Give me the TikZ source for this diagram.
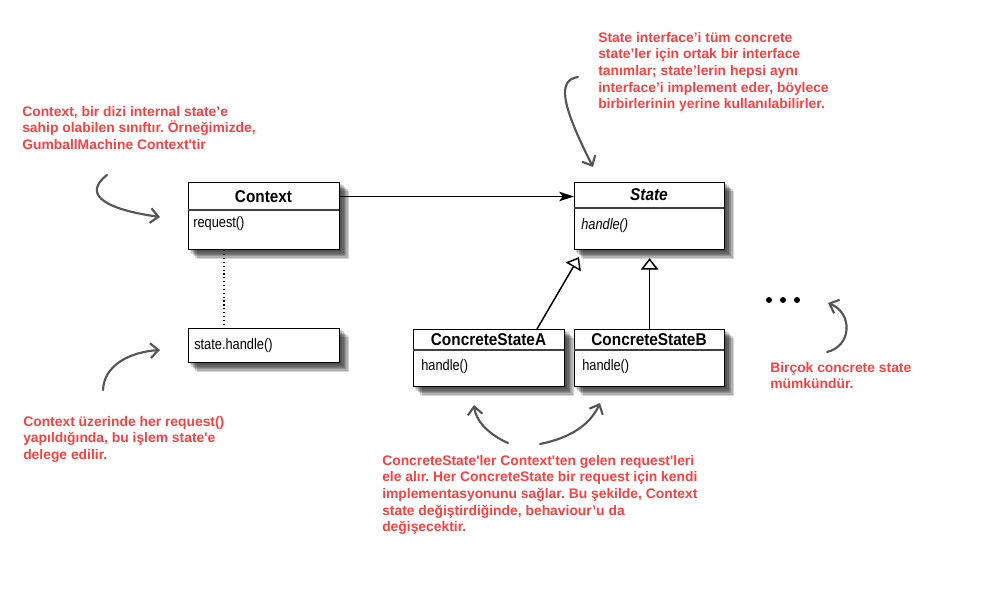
\documentclass[tikz,border=0pt]{standalone}
\usepackage{fontspec}
\setmainfont{Liberation Sans}
\newfontfamily\tfont[FakeStretch=0.9]{Liberation Sans}
\newfontfamily\bfont[FakeStretch=0.85]{Liberation Sans}
\usetikzlibrary{arrows.meta,backgrounds}
\definecolor{notered}{RGB}{252,64,64}
\definecolor{handgray}{RGB}{85,85,85}
\newcommand\sq{\textquotesingle}
\frenchspacing
\begin{document}
\begin{tikzpicture}[x=0.75pt,y=-0.75pt,
  umlbox/.style={draw=black, line width=0.9pt, fill=white, inner sep=0pt},
  shadowpart/.style={fill=black, opacity=0.17},
  sepline/.style={draw=black!75, line width=1.1pt},
  titletext/.style={font=\tfont\fontsize{12.8pt}{14pt}\selectfont\bfseries, inner sep=0pt},
  bodytext/.style={font=\bfont\fontsize{11.3pt}{13pt}\selectfont, inner sep=0pt, anchor=west},
  note/.style={font=\fontsize{10.4pt}{12.45pt}\selectfont\bfseries, text=notered, align=left, anchor=north west, inner sep=0pt},
  hand/.style={draw=handgray, line width=1.6pt, line cap=round, -{Straight Barb[length=6pt,width=11pt]}},
  assoc/.style={draw=black, line width=1.2pt, -{Stealth[length=11pt,width=7pt,inset=2.5pt]}},
  inherit/.style={draw=black, line width=1.1pt, shorten >=6pt, -{Triangle[open,length=8.5pt,width=13pt,fill=white]}},
  dot/.style={circle, fill=black, inner sep=0pt, minimum size=4.5pt}
]
\useasboundingbox (0,0) rectangle (991,596);

% boxes
\node[umlbox, anchor=north west, minimum width=151*0.75pt, minimum height=67*0.75pt] (context) at (188,182) {};
\draw[sepline] (188,210) -- (339,210);
\node[titletext] (contextT) at (263.5,196.5) {Context};
\node[bodytext] (request) at (193,224) {request()};

\node[umlbox, anchor=north west, minimum width=151*0.75pt, minimum height=34*0.75pt] (handlebox) at (188,328) {};
\node[bodytext] (statehandle) at (194,346) {state.handle()};

\node[umlbox, anchor=north west, minimum width=150*0.75pt, minimum height=67*0.75pt] (state) at (574,182) {};
\draw[sepline] (574,208) -- (724,208);
\node[titletext, font=\tfont\fontsize{12.8pt}{14pt}\selectfont\bfseries\itshape] (stateT) at (649,195) {State};
\node[bodytext, font=\bfont\fontsize{11.3pt}{13pt}\selectfont\itshape] (stateH) at (581,226) {handle()};

\node[umlbox, anchor=north west, minimum width=151*0.75pt, minimum height=57*0.75pt] (csA) at (413,329) {};
\draw[sepline] (413,350) -- (564,350);
\node[titletext] (csAT) at (488.5,340) {ConcreteStateA};
\node[bodytext] (csAH) at (421,367) {handle()};

\node[umlbox, anchor=north west, minimum width=150*0.75pt, minimum height=57*0.75pt] (csB) at (574,329) {};
\draw[sepline] (574,350) -- (724,350);
\node[titletext] (csBT) at (649,340) {ConcreteStateB};
\node[bodytext] (csBH) at (582,367) {handle()};

% soft shadows
\begin{scope}[on background layer]
  \foreach \b in {context,handlebox,state,csA,csB}{
    \foreach \k in {1.5,2.5,3.5,4.5,5.5,6.5}{
      \fill[shadowpart] ([xshift=\k pt, yshift=-\k pt]\b.north west) rectangle ([xshift=\k pt, yshift=-\k pt]\b.south east);
    }
  }
\end{scope}

% connectors
\draw[assoc] (contextT -| context.east) -- (contextT -| state.west);
\draw[black, line width=0.9pt, dotted] ([xshift=36*0.75pt]context.south west) -- ([xshift=36*0.75pt]handlebox.north west);
\draw[inherit] ([xshift=124*0.75pt]csA.north west) -- ([xshift=9*0.75pt]state.south west);
\draw[inherit] (csB.north) -- (state.south);

% dots
\node[dot] (d1) at (769,300) {};
\node[dot] (d2) at (783,300) {};
\node[dot] (d3) at (797,300) {};

% notes
\node[note] (n1) at (22,106) {Context, bir dizi internal state’e\\sahip olabilen sınıftır. Örneğimizde,\\GumballMachine Context\sq tir};
\node[note] (n2) at (598,32) {State interface’i tüm concrete\\state’ler için ortak bir interface\\tanımlar; state’lerin hepsi aynı\\interface’i implement eder, böylece\\birbirlerinin yerine kullanılabilirler.};
\node[note] (n3) at (23,416) {Context üzerinde her request()\\yapıldığında, bu işlem state\sq e\\delege edilir.};
\node[note] (n4) at (382,455) {ConcreteState\sq ler Context\sq ten gelen request\sq leri\\ele alır. Her ConcreteState bir request için kendi\\implementasyonunu sağlar. Bu şekilde, Context\\state değiştirdiğinde, behaviour’u da\\değişecektir.};
\node[note] (n5) at (770,362) {Birçok concrete state\\mümkündür.};

% hand-drawn arrows
\coordinate (h1s) at (107,175);
\coordinate (h1e) at (160,217);
\draw[hand] (h1s) .. controls (80,196) and (110,210) .. (h1e);
\coordinate (h2s) at (103,390);
\coordinate (h2e) at (160,350);
\draw[hand] (h2s) .. controls (104,365) and (130,352) .. (h2e);
\coordinate (h3s) at (578,77);
\coordinate (h3e) at (593,167);
\draw[hand] (h3s) .. controls (558,80) and (560,102) .. (h3e);
\coordinate (h4s) at (508,443);
\coordinate (h4e) at (474,405);
\draw[hand] (h4s) .. controls (490,435) and (476,422) .. (h4e);
\coordinate (h5s) at (540,444);
\coordinate (h5e) at (600,403);
\draw[hand] (h5s) .. controls (570,438) and (590,425) .. (h5e);
\coordinate (h6s) at (827,352);
\coordinate (h6e) at (828,303);
\draw[hand] (h6s) .. controls (852,346) and (853,313) .. (h6e);
\end{tikzpicture}
\end{document}
